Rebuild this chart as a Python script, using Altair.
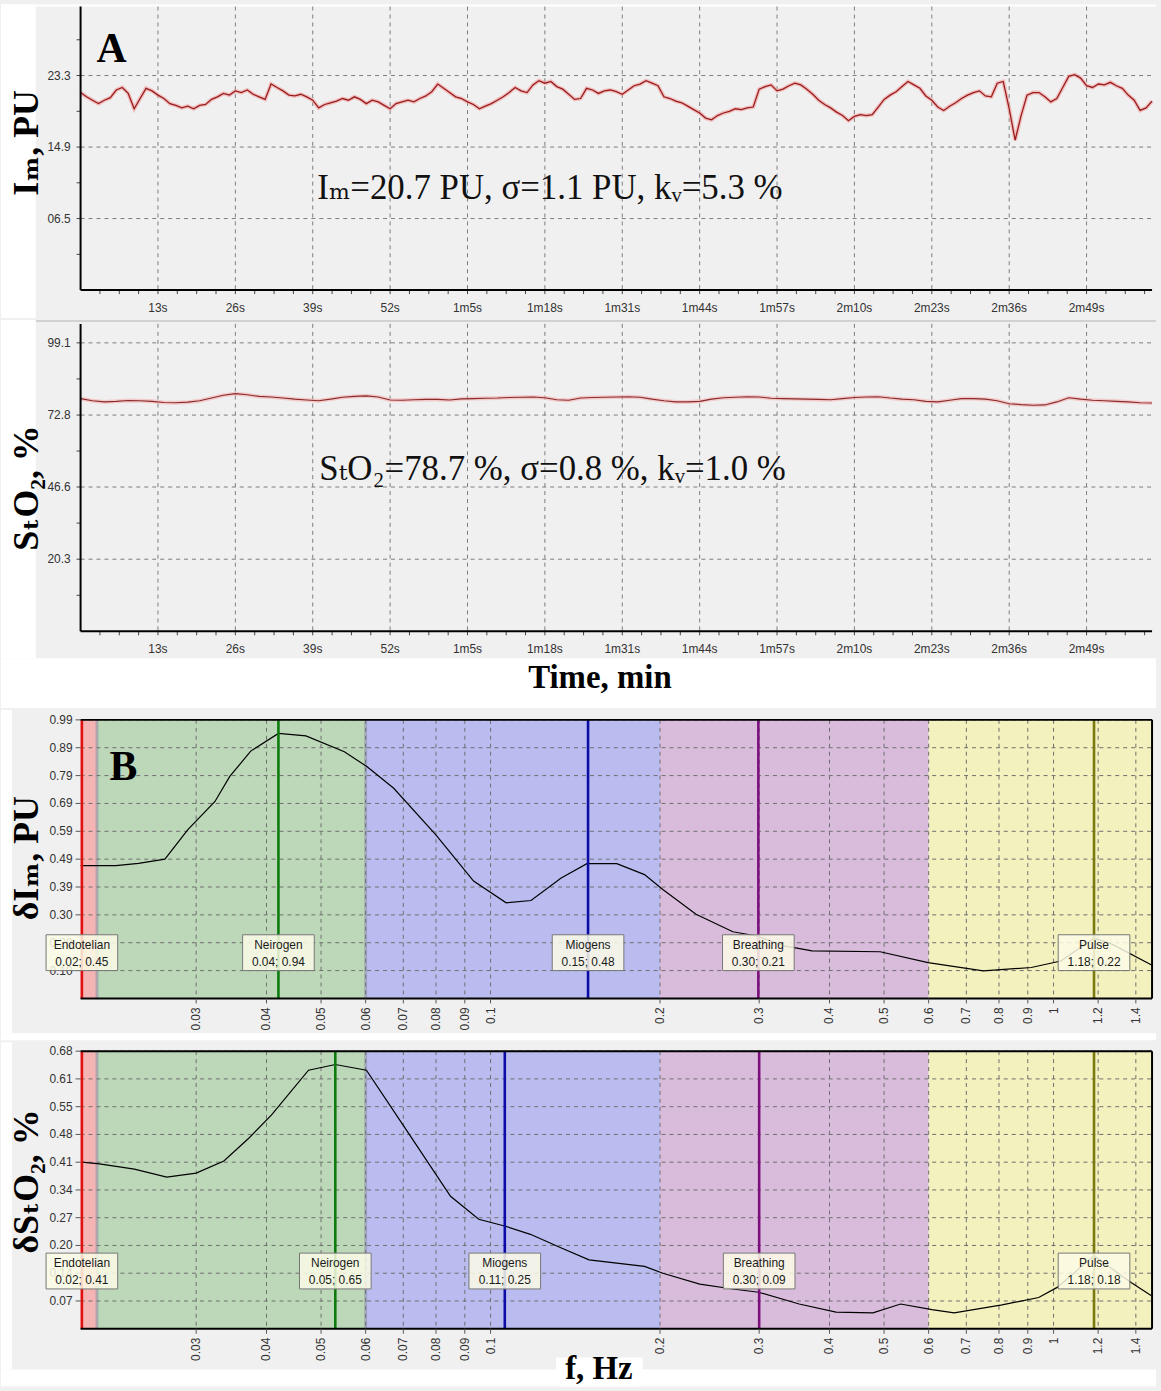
import altair as alt
import pandas as pd

# ---------------- Panel A : time series ----------------
t_im = list(range(0, 181))
im_vals = [21.3, 20.8, 20.4, 20.0, 20.4, 20.7, 21.6, 21.9, 21.2, 19.4,
           20.6, 21.8, 21.5, 21.0, 20.6, 20.0, 19.8, 19.5, 19.7, 19.4,
           19.8, 19.9, 20.5, 20.8, 21.2, 21.0, 21.5, 21.3, 21.6, 21.1,
           20.8, 20.5, 22.3, 21.9, 21.5, 21.0, 20.9, 21.1, 20.8, 20.4,
           19.5, 19.9, 20.1, 20.3, 20.6, 20.4, 20.8, 20.5, 20.0, 20.4,
           20.2, 19.8, 19.4, 20.0, 20.2, 20.4, 20.2, 20.6, 20.9, 21.4,
           22.3, 21.8, 21.3, 20.8, 20.6, 20.2, 19.9, 19.4, 19.7, 20.0,
           20.4, 20.8, 21.3, 21.9, 21.5, 21.3, 22.2, 22.7, 22.4, 22.6,
           22.0, 21.7, 21.1, 20.5, 20.6, 21.8, 21.6, 21.2, 21.5, 21.6,
           21.4, 21.1, 21.6, 22.1, 22.3, 22.7, 22.4, 22.1, 20.8, 20.6,
           20.3, 20.1, 19.7, 19.3, 18.9, 18.3, 18.1, 18.6, 18.9, 19.1,
           19.4, 19.3, 19.5, 19.6, 21.7, 22.0, 22.2, 21.5, 21.7, 22.1,
           22.4, 22.2, 21.7, 21.1, 20.4, 19.9, 19.5, 19.0, 18.6, 18.0,
           18.5, 18.7, 18.6, 18.7, 19.6, 20.5, 21.0, 21.4, 22.0, 22.6,
           22.2, 21.8, 20.9, 20.4, 19.6, 19.2, 19.7, 20.1, 20.6, 21.0,
           21.3, 21.5, 20.9, 20.8, 22.4, 22.6, 19.4, 15.7, 18.6, 21.0,
           21.3, 21.3, 20.8, 20.2, 20.6, 21.9, 23.2, 23.4, 23.0, 22.1,
           21.9, 22.3, 22.2, 22.5, 22.1, 21.8, 21.0, 20.4, 19.2, 19.5,
           20.3]

t_sto2 = list(range(0, 181, 2))
sto2_vals = [78.8, 78.0, 77.6, 77.8, 78.1, 78.0, 77.8, 77.4, 77.3, 77.5,
             78.0, 79.0, 80.0, 80.6, 80.2, 79.6, 79.4, 79.0, 78.6, 78.3,
             78.0, 78.6, 79.3, 79.6, 79.8, 79.4, 78.3, 78.2, 78.4, 78.5,
             78.5, 78.3, 78.7, 78.8, 78.9, 79.0, 79.2, 79.3, 79.4, 79.1,
             78.4, 78.2, 79.0, 79.2, 79.3, 79.4, 79.5, 79.3, 78.6, 78.0,
             77.6, 77.6, 77.8, 78.6, 79.1, 79.3, 79.5, 79.4, 78.9, 78.8,
             78.7, 78.6, 78.5, 78.4, 78.8, 79.2, 79.4, 79.5, 79.0, 78.6,
             78.4, 77.8, 77.6, 78.2, 78.8, 78.8, 78.6, 78.0, 76.9, 76.6,
             76.4, 76.5, 77.6, 79.1, 78.6, 78.2, 78.0, 77.8, 77.6, 77.3,
             77.2]

time_ticks = [round(3.25 * k, 2) for k in range(1, 56)]
time_major = [13, 26, 39, 52, 65, 78, 91, 104, 117, 130, 143, 156, 169]
time_labels = ["13s", "26s", "39s", "52s", "1m5s", "1m18s", "1m31s", "1m44s",
               "1m57s", "2m10s", "2m23s", "2m36s", "2m49s"]
im_yticks = [2.3, 6.5, 10.7, 14.9, 19.1, 23.3, 27.5]
im_ymajor = [6.5, 14.9, 23.3]
im_ylabels = ["06.5", "14.9", "23.3"]
sto2_yticks = [7.15, 20.3, 33.45, 46.6, 59.7, 72.8, 85.95, 99.1]
sto2_ymajor = [20.3, 46.6, 72.8, 99.1]
sto2_ylabels = ["20.3", "46.6", "72.8", "99.1"]

im_stats = "Iₘ=20.7 PU, σ=1.1 PU, kᵥ=5.3 %"
sto2_stats = "SₜO₂=78.7 %, σ=0.8 %, kᵥ=1.0 %"

# ---------------- Panel B : spectra ----------------
f_im = [0.0187, 0.0216, 0.0237, 0.0264, 0.029, 0.0324, 0.0344, 0.0375, 0.042,
        0.047, 0.055, 0.0603, 0.0673, 0.0799, 0.0933, 0.1066, 0.118, 0.1335,
        0.1483, 0.1676, 0.1877, 0.2023, 0.2317, 0.2694, 0.297, 0.3326, 0.3724,
        0.492, 0.5986, 0.7503, 0.9129, 1.03, 1.18, 1.27, 1.496]
dim_vals = [0.472, 0.472, 0.48, 0.495, 0.60, 0.70, 0.788, 0.879, 0.942,
            0.933, 0.877, 0.824, 0.747, 0.582, 0.417, 0.34, 0.348, 0.428,
            0.479, 0.479, 0.44, 0.387, 0.299, 0.237, 0.222, 0.187, 0.169,
            0.166, 0.127, 0.098, 0.11, 0.133, 0.214, 0.193, 0.118]

f_sto2 = [0.0188, 0.0202, 0.0233, 0.0266, 0.030, 0.0336, 0.0372, 0.0408, 0.0475,
          0.053, 0.0602, 0.0709, 0.0849, 0.0953, 0.1063, 0.1177, 0.1333, 0.1496,
          0.1877, 0.2023, 0.2353, 0.2694, 0.2993, 0.3533, 0.4108, 0.4776, 0.535,
          0.608, 0.666, 0.81, 0.941, 1.015, 1.18, 1.373, 1.49]
dsto2_vals = [0.411, 0.407, 0.394, 0.374, 0.384, 0.414, 0.47, 0.527, 0.638,
              0.652, 0.638, 0.49, 0.327, 0.27, 0.253, 0.233, 0.20, 0.17,
              0.154, 0.137, 0.11, 0.098, 0.09, 0.061, 0.041, 0.039, 0.061,
              0.047, 0.039, 0.059, 0.077, 0.102, 0.18, 0.114, 0.082]

freq_ticks = [0.03, 0.04, 0.05, 0.06, 0.07, 0.08, 0.09, 0.1, 0.2, 0.3, 0.4,
              0.5, 0.6, 0.7, 0.8, 0.9, 1, 1.2, 1.4]
freq_labels = ["0.03", "0.04", "0.05", "0.06", "0.07", "0.08", "0.09", "0.1",
               "0.2", "0.3", "0.4", "0.5", "0.6", "0.7", "0.8", "0.9", "1",
               "1.2", "1.4"]
dim_ticks = [0.099, 0.198, 0.297, 0.396, 0.495, 0.594, 0.693, 0.792, 0.891, 0.99]
dim_labels = ["0.10", "0.20", "0.30", "0.39", "0.49", "0.59", "0.69", "0.79", "0.89", "0.99"]
dsto2_ticks = [0.0685, 0.137, 0.2055, 0.274, 0.3425, 0.411, 0.4795, 0.548, 0.6165, 0.685]
dsto2_labels = ["0.07", "0.14", "0.20", "0.27", "0.34", "0.41", "0.48", "0.55", "0.61", "0.68"]

band_start = [0.0187, 0.02, 0.06, 0.2, 0.6]
band_end = [0.02, 0.06, 0.2, 0.6, 1.496]
band_colors = ["#f4b4b4", "#bcd8b8", "#babcf0", "#d9bcdb", "#f3f1bd"]
band_edges = [0.02, 0.06]

rhythm_names = ["Endotelian", "Neirogen", "Miogens", "Breathing", "Pulse"]
marker_colors = ["#e01010", "#0d7a0d", "#0b0ba6", "#7d0f7d", "#7a7a10"]
im_peak_f = [0.0188, 0.042, 0.149, 0.299, 1.18]
im_peak_txt = ["0.02; 0.45", "0.04; 0.94", "0.15; 0.48", "0.30; 0.21", "1.18; 0.22"]
sto2_peak_f = [0.0188, 0.053, 0.106, 0.30, 1.18]
sto2_peak_txt = ["0.02; 0.41", "0.05; 0.65", "0.11; 0.25", "0.30; 0.09", "1.18; 0.18"]

# ---------------- layout / style ----------------
W = 1077
H_A1, H_A2, H_B1, H_B2 = 285, 309, 280, 279
SERIF = "Liberation Serif, DejaVu Serif, serif"
SANS = "Liberation Sans, Arial, sans-serif"
GRID = "#7d7d7d"
LABEL = "#333333"
one = alt.Data(values=[{"k": 0}])


def rect(x, x2, y, y2, color="white"):
    return alt.Chart(one).mark_rect(color=color, strokeWidth=0).encode(
        x=alt.value(x), x2=alt.value(x2), y=alt.value(y), y2=alt.value(y2))


def hrule(x, x2, y, color, width=1):
    return alt.Chart(one).mark_rule(color=color, strokeWidth=width).encode(
        x=alt.value(x), x2=alt.value(x2), y=alt.value(y))


def vrule(x, y, y2, color, width=1):
    return alt.Chart(one).mark_rule(color=color, strokeWidth=width).encode(
        x=alt.value(x), y=alt.value(y), y2=alt.value(y2))


def text(s, x, y, **kw):
    return alt.Chart(one).mark_text(**kw).encode(
        x=alt.value(x), y=alt.value(y), text=alt.value(s))


def ytitle(s, y):
    return text(s, -43, y, angle=270, align="center", baseline="alphabetic",
                font=SERIF, fontSize=36, fontWeight="bold", color="black")


tscale = alt.Scale(domain=[0, 180], nice=False, zero=False)
df_tlab = pd.DataFrame({"t": time_major, "lab": time_labels})
df_tticks = pd.DataFrame({"t": time_ticks})


def series_panel(ts, vs, ydomain, yticks, ymajor, ylabels, H, halo_col, line_col, line_w):
    df = pd.DataFrame({"t": ts, "v": vs})
    ysc = alt.Scale(domain=ydomain, nice=False, zero=False)
    df_ylab = pd.DataFrame({"v": ymajor, "lab": ylabels})
    df_yt = pd.DataFrame({"v": yticks})
    tx = alt.X("t:Q", scale=tscale, axis=None)
    vy = alt.Y("v:Q", scale=ysc, axis=None)
    vgrid = alt.Chart(df_tlab).mark_rule(color=GRID, strokeDash=[4, 4], strokeWidth=1).encode(
        x=tx, y=alt.value(0), y2=alt.value(H))
    hgrid = alt.Chart(df_ylab).mark_rule(color=GRID, strokeDash=[4, 4], strokeWidth=1).encode(
        y=vy, x=alt.value(0), x2=alt.value(W))
    halo = alt.Chart(df).mark_line(color=halo_col, strokeWidth=4, opacity=0.6).encode(x=tx, y=vy)
    line = alt.Chart(df).mark_line(color=line_col, strokeWidth=line_w).encode(x=tx, y=vy)
    xticks = alt.Chart(df_tticks).mark_rule(color="#444", strokeWidth=1).encode(
        x=tx, y=alt.value(H), y2=alt.value(H + 4))
    yticks_m = alt.Chart(df_yt).mark_rule(color="#444", strokeWidth=1).encode(
        y=vy, x=alt.value(-4), x2=alt.value(0))
    xlab = alt.Chart(df_tlab).mark_text(font=SANS, fontSize=12, color=LABEL,
                                        baseline="middle", align="center").encode(
        x=tx, y=alt.value(H + 18), text="lab:N")
    ylab = alt.Chart(df_ylab).mark_text(font=SANS, fontSize=12, color=LABEL,
                                        baseline="middle", align="right").encode(
        y=vy, x=alt.value(-10), text="lab:N")
    return [vgrid, hgrid, halo, line, xticks, yticks_m,
            vrule(0, 0, H, "black", 2), hrule(0, W, H, "black", 2), xlab, ylab]


a1 = alt.layer(
    rect(-80, 1081, -2, 0),
    rect(-80, -45, -2, 313),
    *series_panel(t_im, im_vals, [-1.9, 31.4], im_yticks, im_ymajor, im_ylabels,
                  H_A1, "#f0a0a0", "#9a1c1c", 1.3),
    text(im_stats, 238, 193, align="left", baseline="alphabetic", font=SERIF,
         fontSize=35, color="#111"),
    text("A", 16, 56, align="left", baseline="alphabetic", font=SERIF,
         fontSize=42, fontWeight="bold", color="black"),
    ytitle("Iₘ, PU", 137),
).properties(width=W, height=H_A1)

a2 = alt.layer(
    rect(-80, -45, -4, 336),
    rect(-80, 1081, 336, 386),
    hrule(-45, 1081, -3, "#c8c8c8", 1.5),
    *series_panel(t_sto2, sto2_vals, [-5.97, 106.0], sto2_yticks, sto2_ymajor,
                  sto2_ylabels, H_A2, "#f4b0b0", "#8a2a2a", 1.1),
    text(sto2_stats, 240, 157, align="left", baseline="alphabetic", font=SERIF,
         fontSize=35, color="#111"),
    ytitle("SₜO₂, %", 165),
    text("Time, min", 522, 366, align="center", baseline="alphabetic", font=SERIF,
         fontSize=33, fontWeight="bold", color="black"),
).properties(width=W, height=H_A2)

# ---------------- spectra panels ----------------
fscale = alt.Scale(type="log", domain=[0.0187, 1.496], nice=False)
df_bands = pd.DataFrame({"s": band_start, "e": band_end, "c": band_colors})
df_edges = pd.DataFrame({"f": band_edges})
df_fticks = pd.DataFrame({"f": freq_ticks, "lab": freq_labels})


def spectrum_panel(fs, vs, ydom, yticks, ylabels, H, peak_f, peak_txt, box_y,
                   white_top, white_bottom, extra):
    ysc = alt.Scale(domain=ydom, nice=False, zero=False)
    df = pd.DataFrame({"f": fs, "v": vs})
    df_m = pd.DataFrame({"f": peak_f, "c": marker_colors,
                         "txt": [n + "\n" + p for n, p in zip(rhythm_names, peak_txt)]})
    df_y = pd.DataFrame({"v": yticks, "lab": ylabels})
    fx = alt.X("f:Q", scale=fscale, axis=None)
    vy = alt.Y("v:Q", scale=ysc, axis=None)

    bands = alt.Chart(df_bands).mark_rect(strokeWidth=0).encode(
        x=alt.X("s:Q", scale=fscale, axis=None), x2="e:Q",
        y=alt.value(0), y2=alt.value(H), color=alt.Color("c:N", scale=None))
    edges = alt.Chart(df_edges).mark_rule(color="#8f95a6", strokeWidth=3, opacity=0.6).encode(
        x=fx, y=alt.value(0), y2=alt.value(H))
    vgrid = alt.Chart(df_fticks).mark_rule(color="#6f6f6f", strokeDash=[4, 4], strokeWidth=1).encode(
        x=fx, y=alt.value(0), y2=alt.value(H))
    hgrid = alt.Chart(df_y).mark_rule(color="#6f6f6f", strokeDash=[4, 4], strokeWidth=1).encode(
        y=vy, x=alt.value(0), x2=alt.value(W))
    curve = alt.Chart(df).mark_line(color="black", strokeWidth=1.2).encode(x=fx, y=vy)
    xticks = alt.Chart(df_fticks).mark_rule(color="#555", strokeWidth=1).encode(
        x=fx, y=alt.value(H), y2=alt.value(H + 5))
    yticks_m = alt.Chart(df_y).mark_rule(color="#555", strokeWidth=1).encode(
        y=vy, x=alt.value(-5), x2=alt.value(0))
    xlab = alt.Chart(df_fticks).mark_text(font=SANS, fontSize=12, color=LABEL, angle=270,
                                          align="right", baseline="middle").encode(
        x=fx, y=alt.value(H + 9), text="lab:N")
    ylab = alt.Chart(df_y).mark_text(font=SANS, fontSize=12, color=LABEL,
                                     align="right", baseline="middle").encode(
        y=vy, x=alt.value(-8), text="lab:N")
    markers = alt.Chart(df_m).mark_rule(strokeWidth=2.6).encode(
        x=fx, y=alt.value(0), y2=alt.value(H), color=alt.Color("c:N", scale=None))
    boxes = alt.Chart(df_m).mark_point(
        shape="M-1,-0.5L1,-0.5L1,0.5L-1,0.5Z", size=5184, filled=True,
        fill="#fbfbe6", fillOpacity=0.85, stroke="#777777", strokeWidth=1,
        opacity=1).encode(x=fx, y=alt.value(box_y))
    labels = alt.Chart(df_m).mark_text(
        lineBreak="\n", font=SANS, fontSize=12, color="#1a1a1a", align="center",
        baseline="middle", lineHeight=17).encode(x=fx, y=alt.value(box_y - 8), text="txt:N")
    return alt.layer(
        rect(-80, -69, white_top, white_bottom[0]),
        rect(-80, 1081, white_bottom[0], white_bottom[1]),
        bands, edges, vgrid, hgrid, curve, markers,
        hrule(0, W, 0, "black", 2), hrule(0, W, H, "black", 2), vrule(W, 0, H, "black", 2),
        xticks, yticks_m, xlab, ylab, boxes, labels, *extra,
    ).properties(width=W, height=H)


b1 = spectrum_panel(f_im, dim_vals, [0, 0.99], dim_ticks, dim_labels, H_B1,
                    im_peak_f, im_peak_txt, 234, -10, (315, 322),
                    [text("B", 29, 60, align="left", baseline="alphabetic", font=SERIF,
                          fontSize=42, fontWeight="bold", color="black"),
                     ytitle("δIₘ, PU", 139)])

b2 = spectrum_panel(f_sto2, dsto2_vals, [0, 0.685], dsto2_ticks, dsto2_labels, H_B2,
                    sto2_peak_f, sto2_peak_txt, 221, -9, (320, 337),
                    [rect(478, 565, 308, 337),
                     text("f, Hz", 521, 330, align="center", baseline="alphabetic",
                          font=SERIF, fontSize=33, fontWeight="bold", color="black"),
                     ytitle("δSₜO₂, %", 131)])

chart = alt.vconcat(a1, a2, b1, b2, spacing=0).resolve_scale(
    x="independent", y="independent"
).properties(padding=0, background="#f0f0f0").configure_view(
    stroke="transparent"
)

chart.save("out.html", embed_options={"renderer": "svg", "actions": False})
